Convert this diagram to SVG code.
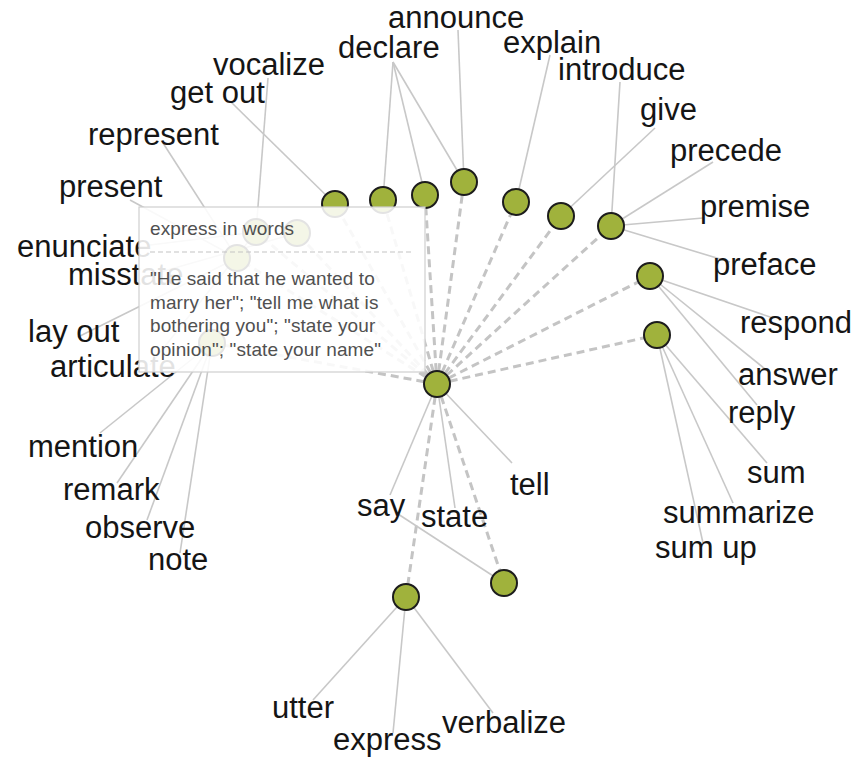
<svg xmlns="http://www.w3.org/2000/svg" width="860" height="761" viewBox="0 0 860 761">
<style>
.bg{fill:#fff}
.s{stroke:#c8c8c8;stroke-width:1.6;fill:none}
.d{stroke:#c4c4c4;stroke-width:3;stroke-dasharray:8,5;fill:none}
.n{fill:#a0b23c;stroke:#1c1c1c;stroke-width:2}
.l{font-family:"Liberation Sans",Arial,sans-serif;font-size:31px;fill:#151515}
.tip{fill:#fff;fill-opacity:0.88;stroke:#cfcfcf;stroke-width:1.2}
.tt{font-family:"Liberation Sans",Arial,sans-serif;font-size:19px;fill:#505050;letter-spacing:0.1px}
.sep{stroke:#c4c4c4;stroke-width:1.2;stroke-dasharray:5,3}
</style>
<rect class="bg" x="0" y="0" width="860" height="761"/>
<g id="connectors">
<g class="d">
<line x1="437" y1="384" x2="335" y2="204"/>
<line x1="437" y1="384" x2="383" y2="200"/>
<line x1="437" y1="384" x2="425" y2="195"/>
<line x1="437" y1="384" x2="464" y2="182"/>
<line x1="437" y1="384" x2="516" y2="202"/>
<line x1="437" y1="384" x2="561" y2="216"/>
<line x1="437" y1="384" x2="611" y2="226"/>
<line x1="437" y1="384" x2="650" y2="276"/>
<line x1="437" y1="384" x2="657" y2="335"/>
<line x1="437" y1="384" x2="504" y2="583"/>
<line x1="437" y1="384" x2="406" y2="597"/>
<line x1="437" y1="384" x2="256" y2="232"/>
<line x1="437" y1="384" x2="297" y2="233"/>
<line x1="437" y1="384" x2="237" y2="258"/>
<line x1="437" y1="384" x2="212" y2="343"/>
</g>
<g class="s">
<line x1="230" y1="101" x2="335" y2="204"/>
<line x1="393" y1="62" x2="383" y2="200"/>
<line x1="393" y1="62" x2="425" y2="195"/>
<line x1="393" y1="62" x2="464" y2="182"/>
<line x1="458" y1="30" x2="464" y2="182"/>
<line x1="550" y1="55" x2="516" y2="202"/>
<line x1="655" y1="128" x2="561" y2="216"/>
<line x1="620" y1="82" x2="611" y2="226"/>
<line x1="713" y1="162" x2="611" y2="226"/>
<line x1="703" y1="218" x2="611" y2="226"/>
<line x1="730" y1="262" x2="611" y2="226"/>
<line x1="773" y1="318" x2="650" y2="276"/>
<line x1="770" y1="373" x2="650" y2="276"/>
<line x1="757" y1="405" x2="650" y2="276"/>
<line x1="767" y1="463" x2="657" y2="335"/>
<line x1="733" y1="503" x2="657" y2="335"/>
<line x1="703" y1="543" x2="657" y2="335"/>
<line x1="512" y1="463" x2="437" y2="384"/>
<line x1="455" y1="508" x2="437" y2="384"/>
<line x1="390" y1="495" x2="437" y2="384"/>
<line x1="398" y1="514" x2="504" y2="583"/>
<line x1="313" y1="700" x2="406" y2="597"/>
<line x1="393" y1="733" x2="406" y2="597"/>
<line x1="493" y1="713" x2="406" y2="597"/>
<line x1="100" y1="433" x2="212" y2="343"/>
<line x1="117" y1="483" x2="212" y2="343"/>
<line x1="147" y1="520" x2="212" y2="343"/>
<line x1="180" y1="553" x2="212" y2="343"/>
<line x1="163" y1="143" x2="237" y2="258"/>
<line x1="130" y1="200" x2="237" y2="258"/>
<line x1="78" y1="337" x2="237" y2="258"/>
<line x1="268" y1="78" x2="256" y2="232"/>
<line x1="150" y1="245" x2="256" y2="232"/>
<line x1="150" y1="365" x2="256" y2="232"/>
<line x1="150" y1="275" x2="297" y2="233"/>
</g>
</g>
<g id="nodes">
<g id="hub"><circle class="n" cx="437" cy="384" r="13"/></g>
<g id="n1"><circle class="n" cx="335" cy="204" r="13"/></g>
<g id="n2"><circle class="n" cx="383" cy="200" r="13"/></g>
<g id="n3"><circle class="n" cx="425" cy="195" r="13"/></g>
<g id="n4"><circle class="n" cx="464" cy="182" r="13"/></g>
<g id="n5"><circle class="n" cx="516" cy="202" r="13"/></g>
<g id="n6"><circle class="n" cx="561" cy="216" r="13"/></g>
<g id="n7"><circle class="n" cx="611" cy="226" r="13"/></g>
<g id="n8"><circle class="n" cx="650" cy="276" r="13"/></g>
<g id="n9"><circle class="n" cx="657" cy="335" r="13"/></g>
<g id="n10"><circle class="n" cx="504" cy="583" r="13"/></g>
<g id="n11"><circle class="n" cx="406" cy="597" r="13"/></g>
<g id="h1"><circle class="n" cx="256" cy="232" r="13"/></g>
<g id="h2"><circle class="n" cx="297" cy="233" r="13"/></g>
<g id="h3"><circle class="n" cx="237" cy="258" r="13"/></g>
<g id="h4"><circle class="n" cx="212" cy="343" r="13"/></g>
</g>
<g id="labels" class="l">
<text x="388" y="28">announce</text>
<text x="338" y="58">declare</text>
<text x="503" y="53">explain</text>
<text x="558" y="80">introduce</text>
<text x="640" y="120">give</text>
<text x="670" y="161">precede</text>
<text x="700" y="217">premise</text>
<text x="713" y="275">preface</text>
<text x="740" y="333">respond</text>
<text x="738" y="385">answer</text>
<text x="728" y="423">reply</text>
<text x="747" y="483">sum</text>
<text x="663" y="523">summarize</text>
<text x="655" y="558">sum up</text>
<text x="510" y="495">tell</text>
<text x="421" y="527">state</text>
<text x="357" y="516">say</text>
<text x="272" y="718">utter</text>
<text x="333" y="750">express</text>
<text x="442" y="733">verbalize</text>
<text x="148" y="570">note</text>
<text x="85" y="538">observe</text>
<text x="63" y="500">remark</text>
<text x="28" y="457">mention</text>
<text x="50" y="377">articulate</text>
<text x="28" y="342">lay out</text>
<text x="68" y="285">misstate</text>
<text x="17" y="257">enunciate</text>
<text x="59" y="197">present</text>
<text x="88" y="145">represent</text>
<text x="170" y="103">get out</text>
<text x="213" y="75">vocalize</text>
</g>
<g id="tooltip">
<rect class="tip" x="139" y="207" width="286" height="165"/>
<text class="tt" x="150" y="235">express in words</text>
<line class="sep" x1="150" y1="252" x2="412" y2="252"/>
<text class="tt" x="150" y="285">"He said that he wanted to</text>
<text class="tt" x="150" y="309">marry her"; "tell me what is</text>
<text class="tt" x="150" y="332">bothering you"; "state your</text>
<text class="tt" x="150" y="356">opinion"; "state your name"</text>
</g>
</svg>
